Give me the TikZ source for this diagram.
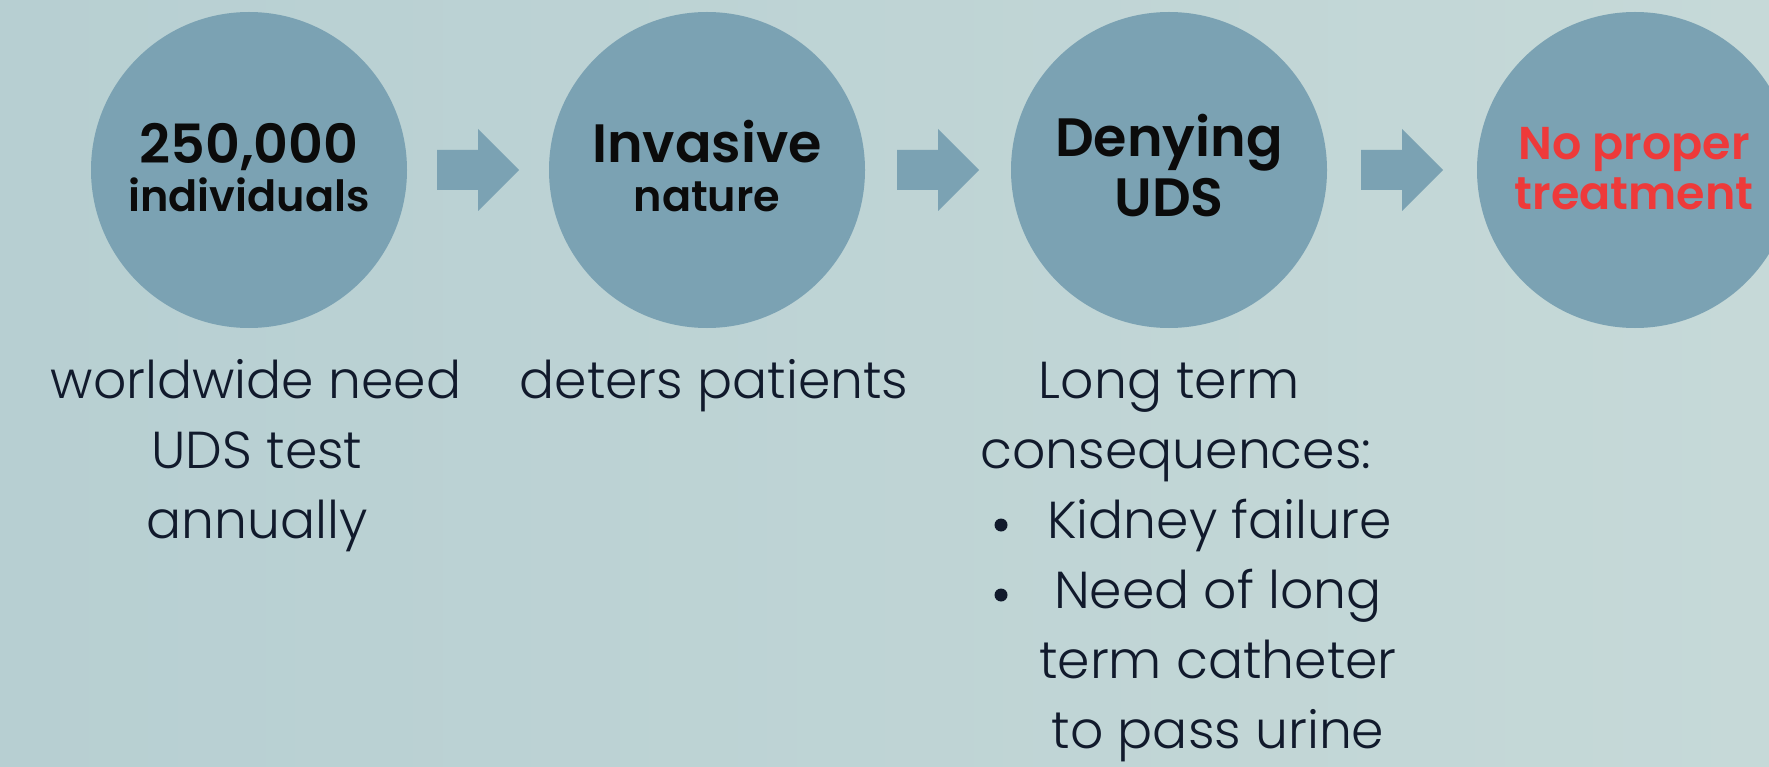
\documentclass[tikz,border=0pt]{standalone}
\usepackage{fontspec}
\setmainfont{Poppins}[BoldFont={Poppins SemiBold}]
\newfontfamily\bodyfont{Poppins Light}
\definecolor{bgL}{HTML}{B7CFD2}
\definecolor{bgR}{HTML}{C6D9D8}
\definecolor{disc}{HTML}{7BA2B3}
\definecolor{ink}{HTML}{111A2C}
\definecolor{headink}{HTML}{0B0B0B}
\definecolor{alert}{HTML}{EE3A3A}
\tikzset{
  stepdisc/.style={circle, fill=disc, minimum size=316pt, inner sep=0pt},
  headtxt/.style={anchor=base, inner sep=0pt, text=headink, font=\bfseries\fontsize{54}{54}\selectfont},
  subtxt/.style={anchor=base, inner sep=0pt, text=headink, font=\bfseries\fontsize{43}{43}\selectfont},
  redtxt/.style={anchor=base, inner sep=0pt, text=alert, font=\bfseries\fontsize{46}{46}\selectfont},
  bodytxt/.style={anchor=base, inner sep=0pt, text=ink, font=\bodyfont\fontsize{52}{52}\selectfont},
  bulletdot/.style={circle, fill=ink, minimum size=13pt, inner sep=0pt},
  flowarrow/.style={fill=disc}
}
\begin{document}
\begin{tikzpicture}[x=1pt,y=-1pt]
\shade[left color=bgL, right color=bgR] (0,0) rectangle (1769,767);
\useasboundingbox (0,0) rectangle (1769,767);
% discs
\node[stepdisc] (c1) at (249,170) {};
\node[stepdisc] (c2) at (707,170) {};
\node[stepdisc] (c3) at (1169,170) {};
\node[stepdisc] (c4) at (1635,170) {};
% arrows
\foreach \a/\b/\n in {c1/c2/1, c2/c3/2, c3/c4/3}{
  \path (\a.east) -- (\b.west) coordinate[pos=0.5] (m\n);
  \fill[flowarrow] ([xshift=-41pt,yshift=-20pt]m\n) -- ([xshift=0pt,yshift=-20pt]m\n) -- ([xshift=0pt,yshift=-41pt]m\n)
     -- ([xshift=41pt]m\n) -- ([xshift=0pt,yshift=41pt]m\n) -- ([xshift=0pt,yshift=20pt]m\n) -- ([xshift=-41pt,yshift=20pt]m\n) -- cycle;
}
% disc texts
\node[headtxt] (t1a) at (249,164) {250,000};
\node[subtxt] (t1b) at (249,212) {individuals};
\node[headtxt] (t2a) at (707,163) {Invasive};
\node[subtxt] (t2b) at (707,212) {nature};
\node[headtxt] (t3a) at (1169,157) {Denying};
\node[headtxt] (t3b) at (1169,217) {UDS};
\node[redtxt] (t4a) at (1634,160) {No proper};
\node[redtxt] (t4b) at (1634,210) {treatment};
% lower texts
\node[bodytxt] (l1a) at (256,398) {worldwide need};
\node[bodytxt] (l1b) at (257,468) {UDS test};
\node[bodytxt] (l1c) at (257,538) {annually};
\node[bodytxt] (l2a) at (714,398) {deters patients};
\node[bodytxt] (l3a) at (1169,398) {Long term};
\node[bodytxt] (l3b) at (1176,468) {consequences:};
\node[bulletdot] (b1) at (1001,525) {};
\node[bodytxt, anchor=base west] (l3c) at (1047,538) {Kidney failure};
\node[bulletdot] (b2) at (1001,595) {};
\node[bodytxt] (l3d) at (1218,608) {Need of long};
\node[bodytxt] (l3e) at (1218,678) {term catheter};
\node[bodytxt] (l3f) at (1218,748) {to pass urine};
\end{tikzpicture}
\end{document}
